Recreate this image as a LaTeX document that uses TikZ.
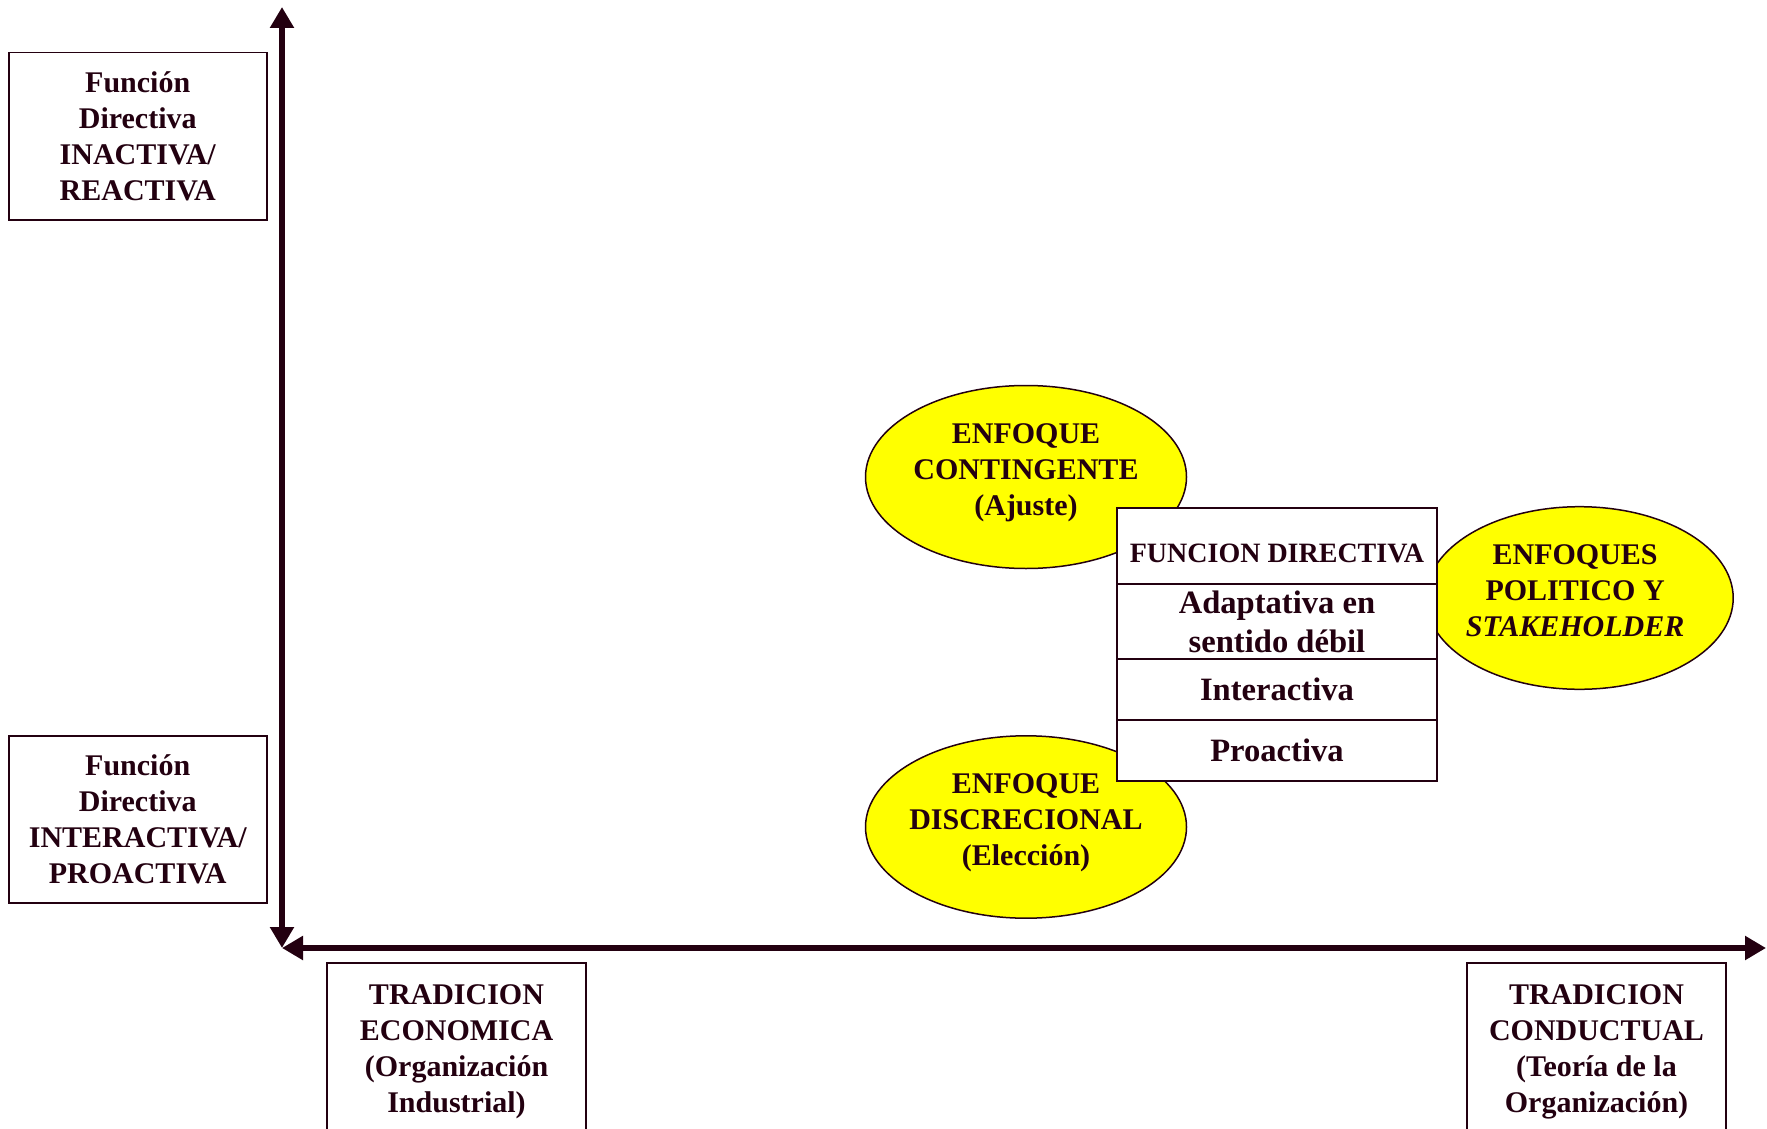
\documentclass[tikz,border=0pt]{standalone}
\usepackage{fontspec}
\setmainfont{Liberation Serif}
\usetikzlibrary{arrows.meta,shapes.geometric}
\definecolor{ink}{RGB}{35,0,16}
\definecolor{ylw}{RGB}{255,255,0}
\begin{document}
\begin{tikzpicture}[x=0.5pt,y=-0.5pt,
  sidebox/.style={draw=ink, line width=0.75pt, minimum width=129pt, minimum height=83.5pt,
    align=center, inner sep=0pt, anchor=north west, text=ink,
    font=\fontsize{15}{18}\selectfont\bfseries},
  openbox/.style={minimum width=129.5pt, minimum height=89pt, outer sep=0pt,
    align=center, inner sep=0pt, anchor=north west, text=ink,
    font=\fontsize{15}{18}\selectfont\bfseries},
  oval/.style={ellipse, draw=ink, fill=ylw, line width=0.75pt, inner sep=0pt},
  ovaltext/.style={align=center, inner sep=0pt, text=ink,
    font=\fontsize{15}{18}\selectfont\bfseries},
  cell/.style={draw=ink, fill=white, line width=0.75pt, minimum width=160pt,
    inner sep=0pt, outer sep=0pt, anchor=north west, align=center, text=ink,
    font=\fontsize{16.3}{19.5}\selectfont\bfseries},
  axis/.style={draw=ink, line width=3pt, {Triangle[length=10.5pt,width=11.5pt]}-{Triangle[length=10.5pt,width=11.5pt]}}
]
\useasboundingbox (0,0) rectangle (1767,1129);
\fill[white] (0,0) rectangle (1767,1129);

% axes
\coordinate (origin) at (282,948);
\coordinate (vtop) at (282,7);
\coordinate (hright) at (1766,948);
\draw[axis] (origin) -- (vtop);
\draw[axis] (origin) -- (hright);

% side boxes
\node[sidebox] (inact) at (8,52) {Función\\Directiva\\INACTIVA/\\REACTIVA};
\node[sidebox] (interact) at (8,735) {Función\\Directiva\\INTERACTIVA/\\PROACTIVA};

% bottom boxes (cut by the page edge)
\node[openbox] (econ) at (327,963) {TRADICION\\ECONOMICA\\(Organización\\Industrial)};
\draw[ink, line width=0.75pt] (econ.south west) -- (econ.north west) -- (econ.north east) -- (econ.south east);
\node[openbox] (cond) at (1467,963) {TRADICION\\CONDUCTUAL\\(Teoría de la\\Organización)};
\draw[ink, line width=0.75pt] (cond.south west) -- (cond.north west) -- (cond.north east) -- (cond.south east);

% ellipses
\node[oval, minimum width=160.5pt, minimum height=91.5pt] (cont) at (1026,477) {};
\node[ovaltext, yshift=2.3pt] (contT) at (cont.center) {ENFOQUE\\CONTINGENTE\\(Ajuste)};
\node[oval, minimum width=160.5pt, minimum height=91.2pt] (disc) at (1026,827) {};
\node[ovaltext, yshift=2pt] (discT) at (disc.center) {ENFOQUE\\DISCRECIONAL\\(Elección)};
\node[oval, minimum width=153.7pt, minimum height=91.3pt] (poli) at (1579.5,598) {};
\node[ovaltext, yshift=3.4pt, xshift=-2.2pt] (poliT) at (poli.center) {ENFOQUES\\POLITICO Y\\\textit{STAKEHOLDER}};

% table
\node[cell, minimum height=38pt, text height=16.5pt, text depth=0pt,
  font=\fontsize{14}{16}\selectfont\bfseries] (th) at (1117,508) {FUNCION DIRECTIVA};
\node[cell, minimum height=37.5pt] (r1) at (th.south west) {Adaptativa en\\sentido débil};
\node[cell, minimum height=30.5pt] (r2) at (r1.south west) {Interactiva};
\node[cell, minimum height=30.5pt] (r3) at (r2.south west) {Proactiva};
\end{tikzpicture}
\end{document}
